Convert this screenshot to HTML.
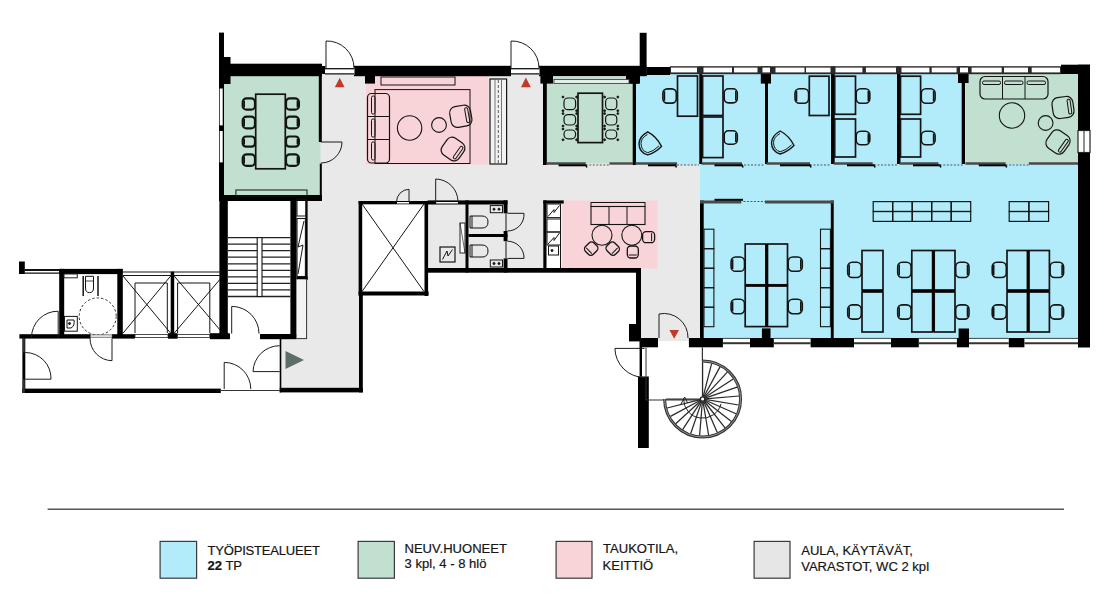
<!DOCTYPE html>
<html><head><meta charset="utf-8"><style>
html,body{margin:0;padding:0;background:#fff;}
svg{display:block;}
</style></head><body>
<svg width="1108" height="606" viewBox="0 0 1108 606">
<rect width="1108" height="606" fill="#fff"/>
<g fill="#e9e9e9">
<rect x="320" y="74" width="226" height="92"/>
<rect x="306" y="162" width="395" height="40"/>
<rect x="306" y="196" width="54" height="86"/>
<rect x="295" y="278" width="66" height="112"/>
<rect x="426" y="200" width="275" height="72"/>
<rect x="639" y="268" width="62" height="73"/>
<rect x="280" y="336" width="81" height="54"/>
</g>
<rect x="366.0" y="76.0" width="122.5" height="88.5" fill="#f8d3d7"/>
<rect x="561.5" y="200.5" width="96.0" height="68.0" fill="#f8d3d7"/>
<rect x="224.0" y="76.0" width="96.5" height="120.0" fill="#c2e0cf"/>
<rect x="546.0" y="77.0" width="87.5" height="86.5" fill="#c2e0cf"/>
<rect x="966.0" y="74.0" width="113.0" height="90.5" fill="#c2e0cf"/>
<rect x="635.0" y="74.0" width="331.0" height="90.5" fill="#b2ecfa"/>
<rect x="700.0" y="164.0" width="379.0" height="175.0" fill="#b2ecfa"/>
<rect x="358.6" y="201.0" width="69.1" height="94.5" fill="#fff"/>
<rect x="543.3" y="200.4" width="18.2" height="68.1" fill="#fff"/>
<rect x="646.0" y="347.5" width="57.0" height="52.5" fill="#fff"/>
<g fill="#000">
<rect x="219" y="32.6" width="5.0" height="168.4"/>
<rect x="224" y="57" width="6.5" height="27.0"/>
<rect x="224" y="63.7" width="98.0" height="12.5"/>
<rect x="322" y="66" width="3.5" height="8.0"/>
<rect x="354" y="65.8" width="157.0" height="10.4"/>
<rect x="365" y="76" width="10.0" height="7.6"/>
<rect x="539" y="65.8" width="107.6" height="10.4"/>
<rect x="639.7" y="32.8" width="6.9" height="43.2"/>
<rect x="646.6" y="67" width="23.4" height="8.0"/>
<rect x="540.4" y="76" width="12.6" height="7.6"/>
<rect x="543" y="76" width="3.8" height="89.0"/>
<rect x="626" y="76" width="14.0" height="7.6"/>
<rect x="632.7" y="74" width="3.3" height="91.0"/>
<rect x="630" y="74" width="9.0" height="9.6"/>
<rect x="699.3" y="66.5" width="2.9" height="97.5"/>
<rect x="765" y="66.5" width="3.0" height="97.5"/>
<rect x="760.8" y="66.5" width="10.2" height="17.1"/>
<rect x="831" y="66.5" width="3.7" height="97.5"/>
<rect x="897" y="66.5" width="3.5" height="97.5"/>
<rect x="961.7" y="66.5" width="3.3" height="97.5"/>
<rect x="958" y="66.5" width="10.6" height="16.5"/>
<rect x="1061" y="64.7" width="29.0" height="9.3"/>
<rect x="1078" y="64.7" width="12.0" height="65.8"/>
<rect x="1078" y="152.5" width="12.0" height="195.0"/>
<rect x="318.8" y="76" width="3.0" height="66.0"/>
<rect x="319.8" y="163.5" width="2.0" height="34.5"/>
<rect x="219" y="195" width="103.0" height="6.0"/>
<rect x="219.4" y="195" width="8.4" height="143.6"/>
<rect x="290.4" y="198" width="6.2" height="140.6"/>
<rect x="210" y="334" width="20.0" height="5.2"/>
<rect x="260" y="334" width="36.6" height="5.2"/>
<rect x="305.4" y="198" width="2.2" height="82.0"/>
<rect x="296.6" y="276.5" width="11.0" height="3.0"/>
<rect x="358.6" y="201" width="3.6" height="94.5"/>
<rect x="424.5" y="201" width="3.6" height="95.0"/>
<rect x="358.6" y="201" width="69.1" height="3.3"/>
<rect x="358.6" y="291.5" width="70.0" height="4.0"/>
<rect x="359" y="295" width="3.8" height="97.4"/>
<rect x="279.7" y="387.8" width="83.1" height="4.6"/>
<rect x="279.7" y="338" width="1.6" height="54.4"/>
<rect x="427.6" y="200.4" width="79.9" height="4.1"/>
<rect x="465.5" y="200.4" width="3.0" height="72.1"/>
<rect x="468.5" y="234" width="39.0" height="3.0"/>
<rect x="503.6" y="200.4" width="3.9" height="12.9"/>
<rect x="503.6" y="231" width="3.9" height="10.2"/>
<rect x="503.6" y="258.4" width="3.9" height="14.1"/>
<rect x="427.6" y="268" width="213.4" height="4.7"/>
<rect x="543.3" y="200.4" width="20.4" height="3.2"/>
<rect x="543.3" y="200.4" width="3.2" height="71.6"/>
<rect x="636" y="268" width="5.0" height="73.0"/>
<rect x="629" y="324" width="11.6" height="17.4"/>
<rect x="639.5" y="338" width="18.5" height="9.3"/>
<rect x="688.9" y="338" width="34.0" height="9.3"/>
<rect x="750" y="338" width="23.8" height="9.3"/>
<rect x="761.9" y="328.4" width="8.6" height="9.6"/>
<rect x="810.6" y="338" width="43.4" height="9.3"/>
<rect x="891" y="338" width="27.8" height="9.3"/>
<rect x="956.9" y="338" width="12.1" height="9.3"/>
<rect x="958.6" y="328.5" width="10.4" height="10.5"/>
<rect x="1008.8" y="338" width="15.6" height="9.3"/>
<rect x="638" y="376.5" width="10.8" height="71.5"/>
<rect x="639.6" y="347" width="2.4" height="29.5"/>
<rect x="700" y="200.5" width="3.7" height="137.5"/>
<rect x="830.8" y="200.5" width="2.9" height="137.5"/>
<rect x="19" y="261.5" width="5.8" height="12.5"/>
<rect x="59.2" y="268.9" width="5.0" height="69.0"/>
<rect x="59.2" y="268.9" width="63.3" height="5.2"/>
<rect x="117.3" y="268.9" width="5.5" height="69.0"/>
<rect x="19.4" y="334.2" width="71.2" height="4.4"/>
<rect x="112" y="334.2" width="23.0" height="4.4"/>
<rect x="168" y="333.2" width="9.6" height="5.5"/>
<rect x="209.8" y="333.2" width="19.9" height="5.5"/>
<rect x="170.7" y="271.6" width="3.5" height="66.4"/>
<rect x="22.4" y="338" width="2.9" height="55.0"/>
<rect x="22.4" y="388.6" width="198.4" height="4.4"/>
</g>
<g>
<rect x="670.0" y="66.2" width="391.0" height="8.0" fill="#2a2a2a"/>
<rect x="671.0" y="67.6" width="26.0" height="4.8" fill="#fff"/>
<rect x="703.5" y="67.6" width="28.5" height="4.8" fill="#fff"/>
<rect x="734.0" y="67.6" width="23.5" height="4.8" fill="#fff"/>
<rect x="762.5" y="67.6" width="7.5" height="4.8" fill="#fff"/>
<rect x="775.5" y="67.6" width="29.0" height="4.8" fill="#fff"/>
<rect x="806.0" y="67.6" width="24.5" height="4.8" fill="#fff"/>
<rect x="835.5" y="67.6" width="26.9" height="4.8" fill="#fff"/>
<rect x="865.9" y="67.6" width="30.1" height="4.8" fill="#fff"/>
<rect x="901.5" y="67.6" width="27.9" height="4.8" fill="#fff"/>
<rect x="931.7" y="67.6" width="24.9" height="4.8" fill="#fff"/>
<rect x="960.0" y="67.6" width="8.0" height="4.8" fill="#fff"/>
<rect x="971.6" y="67.6" width="30.1" height="4.8" fill="#fff"/>
<rect x="1004.0" y="67.6" width="24.0" height="4.8" fill="#fff"/>
<rect x="1031.7" y="67.6" width="28.3" height="4.8" fill="#fff"/>
</g>
<rect x="1078.0" y="130.5" width="12.0" height="22.0" fill="#fff" stroke="#222" stroke-width="1.2"/>
<line x1="1084.0" y1="130.5" x2="1084.0" y2="152.5" stroke="#222" stroke-width="1"/>
<rect x="325.0" y="67.5" width="29.5" height="7.5" fill="#fff"/>
<line x1="325.0" y1="68.7" x2="354.5" y2="68.7" stroke="#111" stroke-width="1.3"/>
<line x1="325.0" y1="73.9" x2="354.5" y2="73.9" stroke="#111" stroke-width="1.3"/>
<rect x="511.0" y="67.5" width="28.5" height="7.5" fill="#fff"/>
<line x1="511.0" y1="68.7" x2="539.5" y2="68.7" stroke="#111" stroke-width="1.3"/>
<line x1="511.0" y1="73.9" x2="539.5" y2="73.9" stroke="#111" stroke-width="1.3"/>
<path d="M326,68 L326,41 A27.0,27.0 0 0 1 354,68" stroke="#1c1c1c" stroke-width="1" fill="none"/>
<path d="M511,68 L511,41 A27.0,27.0 0 0 1 539,68" stroke="#1c1c1c" stroke-width="1" fill="none"/>
<path d="M321,142 L342,142 A21.0,21.0 0 0 1 321,163" stroke="#1c1c1c" stroke-width="1" fill="none"/>
<rect x="397.0" y="202.0" width="12.0" height="1.5" fill="#fff"/>
<path d="M409,202 L409,189.3 A12.7,12.7 0 0 0 396.5,202" stroke="#1c1c1c" stroke-width="1" fill="none"/>
<rect x="436.2" y="202.0" width="21.8" height="1.5" fill="#fff"/>
<path d="M435.7,201.7 L435.7,179 A22.7,22.7 0 0 1 458,201.7" stroke="#1c1c1c" stroke-width="1" fill="none"/>
<path d="M507.5,213.3 L524,213.3 A16.5,16.5 0 0 1 507.5,231" stroke="#1c1c1c" stroke-width="1" fill="none"/>
<path d="M507.5,258.4 L524,258.4 A16.5,16.5 0 0 0 507.5,241.2" stroke="#1c1c1c" stroke-width="1" fill="none"/>
<path d="M659,338 L659,314 A24.0,24.0 0 0 1 688,338" stroke="#1c1c1c" stroke-width="1" fill="none"/>
<path d="M644.6,348.4 L614.9,348.4 A29.7,29.7 0 0 0 644.6,377.5" stroke="#1c1c1c" stroke-width="1" fill="none"/>
<path d="M58.2,337.6 L58.2,311.2 A26.4,26.4 0 0 0 31.5,337.6" stroke="#1c1c1c" stroke-width="1" fill="none"/>
<path d="M112,338.3 L112,360.7 A22.4,22.4 0 0 1 90,338.3" stroke="#1c1c1c" stroke-width="1" fill="none"/>
<path d="M25.2,379.2 L51,379.2 A25.8,25.8 0 0 0 25.2,352.5" stroke="#1c1c1c" stroke-width="1" fill="none"/>
<path d="M279.7,371.6 L253,371.6 A26.7,26.7 0 0 1 279.7,345.7" stroke="#1c1c1c" stroke-width="1" fill="none"/>
<path d="M224.2,389 L224.2,362.4 A26.6,26.6 0 0 1 250.8,389" stroke="#1c1c1c" stroke-width="1" fill="none"/>
<path d="M231.7,333.6 L231.7,306.4 A27.2,27.2 0 0 1 259,333.6" stroke="#1c1c1c" stroke-width="1" fill="none"/>
<path d="M334.8,87.3 L339.7,77.8 L344.6,87.3 Z" fill="#c0392b"/>
<path d="M521,87.3 L525.9,77.6 L530.8,87.3 Z" fill="#c0392b"/>
<path d="M669.4,330 L679,330 L674.2,338.8 Z" fill="#c0392b"/>
<path d="M285.5,351 L304,360 L285.5,369 Z" fill="#5d6e69"/>
<line x1="546.8" y1="163.5" x2="585.8" y2="163.5" stroke="#4a4a4a" stroke-width="2.4"/>
<line x1="609.4" y1="163.5" x2="633.0" y2="163.5" stroke="#4a4a4a" stroke-width="2.4"/>
<line x1="558.6" y1="165.3" x2="585.8" y2="165.3" stroke="#000" stroke-width="2"/>
<line x1="585.8" y1="164.5" x2="586.8" y2="167.5" stroke="#000" stroke-width="1.5"/>
<line x1="585.8" y1="165.0" x2="609.4" y2="165.0" stroke="#333" stroke-width="0.8" stroke-dasharray="2,1.5"/>
<line x1="635.4" y1="163.5" x2="677.0" y2="163.5" stroke="#4a4a4a" stroke-width="2.4"/>
<line x1="648.0" y1="165.3" x2="675.4" y2="165.3" stroke="#000" stroke-width="2"/>
<line x1="675.4" y1="164.5" x2="676.4" y2="167.5" stroke="#000" stroke-width="1.5"/>
<line x1="677.0" y1="165.0" x2="699.0" y2="165.0" stroke="#333" stroke-width="0.8" stroke-dasharray="2,1.5"/>
<line x1="701.5" y1="163.5" x2="742.0" y2="163.5" stroke="#4a4a4a" stroke-width="2.4"/>
<line x1="714.5" y1="165.3" x2="742.0" y2="165.3" stroke="#000" stroke-width="2"/>
<line x1="742.0" y1="164.5" x2="743.0" y2="167.5" stroke="#000" stroke-width="1.5"/>
<line x1="744.0" y1="165.0" x2="765.0" y2="165.0" stroke="#333" stroke-width="0.8" stroke-dasharray="2,1.5"/>
<line x1="766.5" y1="163.5" x2="810.0" y2="163.5" stroke="#4a4a4a" stroke-width="2.4"/>
<line x1="780.0" y1="165.3" x2="810.0" y2="165.3" stroke="#000" stroke-width="2"/>
<line x1="810.0" y1="164.5" x2="811.0" y2="167.5" stroke="#000" stroke-width="1.5"/>
<line x1="810.0" y1="165.0" x2="831.0" y2="165.0" stroke="#333" stroke-width="0.8" stroke-dasharray="2,1.5"/>
<line x1="833.7" y1="163.5" x2="872.7" y2="163.5" stroke="#4a4a4a" stroke-width="2.4"/>
<line x1="847.0" y1="165.3" x2="874.0" y2="165.3" stroke="#000" stroke-width="2"/>
<line x1="874.0" y1="164.5" x2="875.0" y2="167.5" stroke="#000" stroke-width="1.5"/>
<line x1="874.0" y1="165.0" x2="897.0" y2="165.0" stroke="#333" stroke-width="0.8" stroke-dasharray="2,1.5"/>
<line x1="899.5" y1="163.5" x2="938.5" y2="163.5" stroke="#4a4a4a" stroke-width="2.4"/>
<line x1="913.0" y1="165.3" x2="939.8" y2="165.3" stroke="#000" stroke-width="2"/>
<line x1="939.8" y1="164.5" x2="940.8" y2="167.5" stroke="#000" stroke-width="1.5"/>
<line x1="939.8" y1="165.0" x2="963.0" y2="165.0" stroke="#333" stroke-width="0.8" stroke-dasharray="2,1.5"/>
<line x1="965.4" y1="163.5" x2="1005.6" y2="163.5" stroke="#4a4a4a" stroke-width="2.4"/>
<line x1="1028.8" y1="163.5" x2="1078.0" y2="163.5" stroke="#4a4a4a" stroke-width="2.4"/>
<line x1="978.8" y1="165.3" x2="1005.6" y2="165.3" stroke="#000" stroke-width="2"/>
<line x1="1005.6" y1="164.5" x2="1006.6" y2="167.5" stroke="#000" stroke-width="1.5"/>
<line x1="1005.6" y1="165.0" x2="1028.8" y2="165.0" stroke="#333" stroke-width="0.8" stroke-dasharray="2,1.5"/>
<line x1="700.0" y1="202.0" x2="741.3" y2="202.0" stroke="#4a4a4a" stroke-width="3.2"/>
<line x1="765.0" y1="202.0" x2="833.7" y2="202.0" stroke="#4a4a4a" stroke-width="3.2"/>
<line x1="714.5" y1="199.8" x2="743.0" y2="199.8" stroke="#000" stroke-width="2"/>
<line x1="743.4" y1="201.5" x2="765.0" y2="201.5" stroke="#333" stroke-width="0.8" stroke-dasharray="2,1.5"/>
<rect x="255.7" y="94.2" width="29.6" height="74.6" fill="none" stroke="#141414" stroke-width="1.7"/>
<rect x="242.7" y="98.4" width="12.3" height="11.3" rx="3.8" fill="none" stroke="#141414" stroke-width="2.2"/>
<line x1="244.2" y1="100.7" x2="244.2" y2="107.4" stroke="#141414" stroke-width="1.6"/>
<rect x="286.0" y="98.4" width="12.9" height="11.3" rx="3.8" fill="none" stroke="#141414" stroke-width="2.2"/>
<line x1="297.4" y1="100.7" x2="297.4" y2="107.4" stroke="#141414" stroke-width="1.6"/>
<rect x="242.7" y="116.7" width="12.3" height="11.6" rx="3.9" fill="none" stroke="#141414" stroke-width="2.2"/>
<line x1="244.2" y1="119.0" x2="244.2" y2="126.0" stroke="#141414" stroke-width="1.6"/>
<rect x="286.0" y="116.7" width="12.9" height="11.6" rx="3.9" fill="none" stroke="#141414" stroke-width="2.2"/>
<line x1="297.4" y1="119.0" x2="297.4" y2="126.0" stroke="#141414" stroke-width="1.6"/>
<rect x="242.7" y="136.5" width="12.3" height="10.2" rx="3.5" fill="none" stroke="#141414" stroke-width="2.2"/>
<line x1="244.2" y1="138.8" x2="244.2" y2="144.4" stroke="#141414" stroke-width="1.6"/>
<rect x="286.0" y="136.5" width="12.9" height="10.2" rx="3.5" fill="none" stroke="#141414" stroke-width="2.2"/>
<line x1="297.4" y1="138.8" x2="297.4" y2="144.4" stroke="#141414" stroke-width="1.6"/>
<rect x="242.7" y="154.3" width="12.3" height="11.5" rx="3.9" fill="none" stroke="#141414" stroke-width="2.2"/>
<line x1="244.2" y1="156.6" x2="244.2" y2="163.5" stroke="#141414" stroke-width="1.6"/>
<rect x="286.0" y="154.3" width="12.9" height="11.5" rx="3.9" fill="none" stroke="#141414" stroke-width="2.2"/>
<line x1="297.4" y1="156.6" x2="297.4" y2="163.5" stroke="#141414" stroke-width="1.6"/>
<rect x="235.9" y="190.0" width="71.1" height="6.0" fill="none" stroke="#141414" stroke-width="1"/>
<rect x="219.7" y="88.5" width="3.0" height="36.9" fill="#fff"/>
<rect x="219.7" y="131.0" width="3.0" height="31.4" fill="#fff"/>
<rect x="554.0" y="79.5" width="75.0" height="4.1" fill="#e4efe9" stroke="#333" stroke-width="0.8"/>
<rect x="578.0" y="93.2" width="24.5" height="49.4" fill="none" stroke="#141414" stroke-width="1.7"/>
<rect x="564.0" y="98.0" width="11.6" height="11.7" rx="4" fill="none" stroke="#141414" stroke-width="1.2"/>
<circle cx="563.0" cy="97.0" r="1.0" stroke="#141414" stroke-width="0.8" fill="#141414"/>
<circle cx="563.0" cy="110.7" r="1.0" stroke="#141414" stroke-width="0.8" fill="#141414"/>
<circle cx="576.6" cy="97.0" r="1.0" stroke="#141414" stroke-width="0.8" fill="#141414"/>
<circle cx="576.6" cy="110.7" r="1.0" stroke="#141414" stroke-width="0.8" fill="#141414"/>
<rect x="605.6" y="98.0" width="11.2" height="11.7" rx="4" fill="none" stroke="#141414" stroke-width="1.2"/>
<circle cx="604.6" cy="97.0" r="1.0" stroke="#141414" stroke-width="0.8" fill="#141414"/>
<circle cx="604.6" cy="110.7" r="1.0" stroke="#141414" stroke-width="0.8" fill="#141414"/>
<circle cx="617.8" cy="97.0" r="1.0" stroke="#141414" stroke-width="0.8" fill="#141414"/>
<circle cx="617.8" cy="110.7" r="1.0" stroke="#141414" stroke-width="0.8" fill="#141414"/>
<rect x="564.0" y="114.6" width="11.6" height="10.4" rx="4" fill="none" stroke="#141414" stroke-width="1.2"/>
<circle cx="563.0" cy="113.6" r="1.0" stroke="#141414" stroke-width="0.8" fill="#141414"/>
<circle cx="563.0" cy="126.0" r="1.0" stroke="#141414" stroke-width="0.8" fill="#141414"/>
<circle cx="576.6" cy="113.6" r="1.0" stroke="#141414" stroke-width="0.8" fill="#141414"/>
<circle cx="576.6" cy="126.0" r="1.0" stroke="#141414" stroke-width="0.8" fill="#141414"/>
<rect x="605.6" y="114.6" width="11.2" height="10.4" rx="4" fill="none" stroke="#141414" stroke-width="1.2"/>
<circle cx="604.6" cy="113.6" r="1.0" stroke="#141414" stroke-width="0.8" fill="#141414"/>
<circle cx="604.6" cy="126.0" r="1.0" stroke="#141414" stroke-width="0.8" fill="#141414"/>
<circle cx="617.8" cy="113.6" r="1.0" stroke="#141414" stroke-width="0.8" fill="#141414"/>
<circle cx="617.8" cy="126.0" r="1.0" stroke="#141414" stroke-width="0.8" fill="#141414"/>
<rect x="564.0" y="130.0" width="11.6" height="8.8" rx="4" fill="none" stroke="#141414" stroke-width="1.2"/>
<circle cx="563.0" cy="129.0" r="1.0" stroke="#141414" stroke-width="0.8" fill="#141414"/>
<circle cx="563.0" cy="139.8" r="1.0" stroke="#141414" stroke-width="0.8" fill="#141414"/>
<circle cx="576.6" cy="129.0" r="1.0" stroke="#141414" stroke-width="0.8" fill="#141414"/>
<circle cx="576.6" cy="139.8" r="1.0" stroke="#141414" stroke-width="0.8" fill="#141414"/>
<rect x="605.6" y="130.0" width="11.2" height="8.8" rx="4" fill="none" stroke="#141414" stroke-width="1.2"/>
<circle cx="604.6" cy="129.0" r="1.0" stroke="#141414" stroke-width="0.8" fill="#141414"/>
<circle cx="604.6" cy="139.8" r="1.0" stroke="#141414" stroke-width="0.8" fill="#141414"/>
<circle cx="617.8" cy="129.0" r="1.0" stroke="#141414" stroke-width="0.8" fill="#141414"/>
<circle cx="617.8" cy="139.8" r="1.0" stroke="#141414" stroke-width="0.8" fill="#141414"/>
<rect x="381.0" y="77.0" width="74.0" height="8.0" fill="none" stroke="#141414" stroke-width="1"/>
<rect x="375.0" y="89.6" width="95.0" height="73.9" fill="none" stroke="#141414" stroke-width="1"/>
<rect x="367.5" y="93.5" width="22" height="69.5" rx="4" fill="none" stroke="#141414" stroke-width="1.2"/>
<line x1="367.5" y1="116.5" x2="389.5" y2="116.5" stroke="#141414" stroke-width="1"/>
<line x1="367.5" y1="139.5" x2="389.5" y2="139.5" stroke="#141414" stroke-width="1"/>
<rect x="371.5" y="96" width="3.5" height="18" rx="1.5" fill="none" stroke="#141414" stroke-width="1"/>
<rect x="371.5" y="119" width="3.5" height="18" rx="1.5" fill="none" stroke="#141414" stroke-width="1"/>
<rect x="371.5" y="142" width="3.5" height="18" rx="1.5" fill="none" stroke="#141414" stroke-width="1"/>
<circle cx="409.6" cy="128.0" r="12.2" stroke="#141414" stroke-width="1.1" fill="none"/>
<circle cx="439.0" cy="125.0" r="7.4" stroke="#141414" stroke-width="1.1" fill="none"/>
<g transform="translate(460.8,116.3) rotate(-10)">
<rect x="-10.5" y="-10.5" width="21.0" height="21.0" rx="6.3" fill="none" stroke="#141414" stroke-width="1.2"/>
<rect x="5.0" y="-7.5" width="3" height="15.0" rx="1.4" fill="none" stroke="#141414" stroke-width="1"/>
</g>
<g transform="translate(453.0,149.0) rotate(35)">
<rect x="-10.2" y="-10.2" width="20.5" height="20.5" rx="6.1" fill="none" stroke="#141414" stroke-width="1.2"/>
<rect x="4.8" y="-7.2" width="3" height="14.5" rx="1.4" fill="none" stroke="#141414" stroke-width="1"/>
</g>
<rect x="490.0" y="79.0" width="16.6" height="85.0" fill="#f2f2f2" stroke="#141414" stroke-width="1.2"/>
<line x1="495.0" y1="79.0" x2="495.0" y2="164.0" stroke="#555" stroke-width="0.8"/>
<line x1="501.5" y1="79.0" x2="501.5" y2="164.0" stroke="#555" stroke-width="0.8"/>
<line x1="498.3" y1="80.0" x2="498.3" y2="163.0" stroke="#333" stroke-width="0.8" stroke-dasharray="3,2"/>
<rect x="980" y="76.5" width="68" height="22.5" rx="5" fill="none" stroke="#141414" stroke-width="1.2"/>
<line x1="1002.5" y1="76.5" x2="1002.5" y2="99.0" stroke="#141414" stroke-width="1"/>
<line x1="1025.0" y1="76.5" x2="1025.0" y2="99.0" stroke="#141414" stroke-width="1"/>
<rect x="982.5" y="81" width="18.0" height="3.5" rx="1.5" fill="none" stroke="#141414" stroke-width="1"/>
<rect x="1004.5" y="81" width="18.5" height="3.5" rx="1.5" fill="none" stroke="#141414" stroke-width="1"/>
<rect x="1027" y="81" width="18.5" height="3.5" rx="1.5" fill="none" stroke="#141414" stroke-width="1"/>
<circle cx="1012.0" cy="115.5" r="12.7" stroke="#141414" stroke-width="1.1" fill="none"/>
<circle cx="1045.6" cy="123.0" r="7.4" stroke="#141414" stroke-width="1.1" fill="none"/>
<g transform="translate(1063.0,107.5) rotate(-8)">
<rect x="-10.5" y="-10.5" width="21.0" height="21.0" rx="6.3" fill="none" stroke="#141414" stroke-width="1.2"/>
<rect x="5.0" y="-7.5" width="3" height="15.0" rx="1.4" fill="none" stroke="#141414" stroke-width="1"/>
</g>
<g transform="translate(1058.0,142.0) rotate(35)">
<rect x="-10.5" y="-10.5" width="21.0" height="21.0" rx="6.3" fill="none" stroke="#141414" stroke-width="1.2"/>
<rect x="5.0" y="-7.5" width="3" height="15.0" rx="1.4" fill="none" stroke="#141414" stroke-width="1"/>
</g>
<rect x="591" y="202.5" width="54" height="4" fill="none" stroke="#141414" stroke-width="1"/>
<rect x="591" y="206.5" width="54" height="18" fill="none" stroke="#141414" stroke-width="1.1"/>
<line x1="609.0" y1="206.5" x2="609.0" y2="224.5" stroke="#141414" stroke-width="1"/>
<line x1="627.0" y1="206.5" x2="627.0" y2="224.5" stroke="#141414" stroke-width="1"/>
<circle cx="602.0" cy="235.3" r="10.0" stroke="#141414" stroke-width="1.1" fill="none"/>
<circle cx="631.8" cy="235.3" r="10.0" stroke="#141414" stroke-width="1.1" fill="none"/>
<g transform="translate(591.2,248.6) rotate(45)">
<rect x="-5.5" y="-6.0" width="11" height="12" rx="3.5" fill="none" stroke="#141414" stroke-width="1.3"/>
<path d="M-4.0,3.0 L4.0,3.0" stroke="#141414" stroke-width="1"/>
</g>
<g transform="translate(612.7,248.6) rotate(-45)">
<rect x="-5.5" y="-6.0" width="11" height="12" rx="3.5" fill="none" stroke="#141414" stroke-width="1.3"/>
<path d="M-4.0,3.0 L4.0,3.0" stroke="#141414" stroke-width="1"/>
</g>
<g transform="translate(632.8,252) rotate(0)">
<rect x="-5.5" y="-6.0" width="11" height="12" rx="3.5" fill="none" stroke="#141414" stroke-width="1.3"/>
<path d="M-4.0,3.0 L4.0,3.0" stroke="#141414" stroke-width="1"/>
</g>
<g transform="translate(648.6,237.2) rotate(-90)">
<rect x="-5.5" y="-6.0" width="11" height="12" rx="3.5" fill="none" stroke="#141414" stroke-width="1.3"/>
<path d="M-4.0,3.0 L4.0,3.0" stroke="#141414" stroke-width="1"/>
</g>
<rect x="547.0" y="204.0" width="13.5" height="13.6" fill="none" stroke="#141414" stroke-width="1"/>
<path d="M548,216.5 L554,209.5 L554,212.5 L559.5,205.5" stroke="#141414" stroke-width="1" fill="none"/>
<rect x="547.0" y="219.0" width="13.5" height="13.0" fill="none" stroke="#141414" stroke-width="1"/>
<rect x="547.0" y="232.0" width="13.5" height="13.0" fill="none" stroke="#141414" stroke-width="1"/>
<path d="M548,244 L554,237.5 L554,240.5 L559.5,233" stroke="#141414" stroke-width="1" fill="none"/>
<rect x="548.5" y="246.0" width="10.0" height="9.0" fill="none" stroke="#141414" stroke-width="1"/>
<circle cx="552.0" cy="250.5" r="1.0" stroke="#141414" stroke-width="1" fill="#141414"/>
<line x1="560.5" y1="204.0" x2="560.5" y2="268.0" stroke="#141414" stroke-width="1"/>
<rect x="677.5" y="76.0" width="20.0" height="40.2" fill="none" stroke="#141414" stroke-width="1.7"/>
<rect x="662.9" y="88.9" width="13.4" height="14.2" rx="4.4" fill="none" stroke="#141414" stroke-width="1.6"/>
<line x1="664.4" y1="91.2" x2="664.4" y2="100.8" stroke="#141414" stroke-width="1.6"/>
<g transform="translate(650.5,143.4) scale(1.0)">
<path d="M-2.8,-11.5 Q6,-7 11,3 Q5,9 -2.8,11.5 Q-11.5,9 -11.5,0 Q-11,-7 -2.8,-11.5 Z" fill="none" stroke="#141414" stroke-width="1.4"/>
<path d="M-3,-9 Q-9.3,-5.5 -9.5,0 Q-9.3,7.5 -2.8,9.3 Q3,8 8.5,2.5" fill="none" stroke="#141414" stroke-width="1"/>
</g>
<rect x="702.6" y="76.0" width="20.4" height="39.5" fill="none" stroke="#141414" stroke-width="1.7"/>
<rect x="702.6" y="117.0" width="20.4" height="40.6" fill="none" stroke="#141414" stroke-width="1.7"/>
<rect x="724.2" y="88.7" width="13.1" height="14.2" rx="4.3" fill="none" stroke="#141414" stroke-width="1.6"/>
<line x1="735.8" y1="91.0" x2="735.8" y2="100.6" stroke="#141414" stroke-width="1.6"/>
<rect x="724.2" y="130.7" width="13.1" height="13.6" rx="4.3" fill="none" stroke="#141414" stroke-width="1.6"/>
<line x1="735.8" y1="133.0" x2="735.8" y2="142.0" stroke="#141414" stroke-width="1.6"/>
<g transform="translate(783,142.5) scale(1.0)">
<path d="M-2.8,-11.5 Q6,-7 11,3 Q5,9 -2.8,11.5 Q-11.5,9 -11.5,0 Q-11,-7 -2.8,-11.5 Z" fill="none" stroke="#141414" stroke-width="1.4"/>
<path d="M-3,-9 Q-9.3,-5.5 -9.5,0 Q-9.3,7.5 -2.8,9.3 Q3,8 8.5,2.5" fill="none" stroke="#141414" stroke-width="1"/>
</g>
<rect x="809.3" y="76.2" width="19.7" height="39.3" fill="none" stroke="#141414" stroke-width="1.7"/>
<rect x="795.0" y="88.7" width="13.6" height="14.6" rx="4.5" fill="none" stroke="#141414" stroke-width="1.6"/>
<line x1="796.5" y1="91.0" x2="796.5" y2="101.0" stroke="#141414" stroke-width="1.6"/>
<rect x="834.7" y="76.2" width="20.8" height="38.1" fill="none" stroke="#141414" stroke-width="1.7"/>
<rect x="834.7" y="119.0" width="20.8" height="38.0" fill="none" stroke="#141414" stroke-width="1.7"/>
<rect x="856.2" y="88.7" width="13.6" height="14.6" rx="4.5" fill="none" stroke="#141414" stroke-width="1.6"/>
<line x1="868.3" y1="91.0" x2="868.3" y2="101.0" stroke="#141414" stroke-width="1.6"/>
<rect x="856.2" y="131.2" width="13.6" height="13.6" rx="4.5" fill="none" stroke="#141414" stroke-width="1.6"/>
<line x1="868.3" y1="133.5" x2="868.3" y2="142.5" stroke="#141414" stroke-width="1.6"/>
<rect x="900.5" y="76.2" width="20.1" height="38.1" fill="none" stroke="#141414" stroke-width="1.7"/>
<rect x="900.5" y="119.0" width="20.1" height="38.0" fill="none" stroke="#141414" stroke-width="1.7"/>
<rect x="921.3" y="88.7" width="13.8" height="14.6" rx="4.6" fill="none" stroke="#141414" stroke-width="1.6"/>
<line x1="933.6" y1="91.0" x2="933.6" y2="101.0" stroke="#141414" stroke-width="1.6"/>
<rect x="921.3" y="131.2" width="13.8" height="13.6" rx="4.5" fill="none" stroke="#141414" stroke-width="1.6"/>
<line x1="933.6" y1="133.5" x2="933.6" y2="142.5" stroke="#141414" stroke-width="1.6"/>
<rect x="704.0" y="229.2" width="9.9" height="19.5" fill="none" stroke="#141414" stroke-width="1.1"/>
<rect x="820.5" y="229.2" width="9.9" height="19.5" fill="none" stroke="#141414" stroke-width="1.1"/>
<rect x="704.0" y="248.7" width="9.9" height="19.5" fill="none" stroke="#141414" stroke-width="1.1"/>
<rect x="820.5" y="248.7" width="9.9" height="19.5" fill="none" stroke="#141414" stroke-width="1.1"/>
<rect x="704.0" y="268.2" width="9.9" height="19.5" fill="none" stroke="#141414" stroke-width="1.1"/>
<rect x="820.5" y="268.2" width="9.9" height="19.5" fill="none" stroke="#141414" stroke-width="1.1"/>
<rect x="704.0" y="287.7" width="9.9" height="19.5" fill="none" stroke="#141414" stroke-width="1.1"/>
<rect x="820.5" y="287.7" width="9.9" height="19.5" fill="none" stroke="#141414" stroke-width="1.1"/>
<rect x="704.0" y="307.2" width="9.9" height="19.5" fill="none" stroke="#141414" stroke-width="1.1"/>
<rect x="820.5" y="307.2" width="9.9" height="19.5" fill="none" stroke="#141414" stroke-width="1.1"/>
<rect x="745.2" y="244.0" width="20.7" height="40.8" fill="none" stroke="#141414" stroke-width="1.7"/>
<rect x="767.5" y="244.0" width="20.0" height="40.8" fill="none" stroke="#141414" stroke-width="1.7"/>
<rect x="745.2" y="286.0" width="20.7" height="40.6" fill="none" stroke="#141414" stroke-width="1.7"/>
<rect x="767.5" y="286.0" width="20.0" height="40.6" fill="none" stroke="#141414" stroke-width="1.7"/>
<rect x="765.6" y="244.0" width="2.2" height="82.6" fill="#000"/>
<rect x="745.2" y="284.6" width="42.3" height="1.7" fill="#000"/>
<rect x="731.1" y="257.0" width="13.4" height="14.3" rx="4.4" fill="none" stroke="#141414" stroke-width="1.6"/>
<line x1="732.6" y1="259.3" x2="732.6" y2="269.0" stroke="#141414" stroke-width="1.6"/>
<rect x="788.2" y="257.0" width="14.1" height="14.3" rx="4.6" fill="none" stroke="#141414" stroke-width="1.6"/>
<line x1="800.8" y1="259.3" x2="800.8" y2="269.0" stroke="#141414" stroke-width="1.6"/>
<rect x="731.1" y="299.2" width="13.4" height="14.5" rx="4.4" fill="none" stroke="#141414" stroke-width="1.6"/>
<line x1="732.6" y1="301.5" x2="732.6" y2="311.4" stroke="#141414" stroke-width="1.6"/>
<rect x="788.2" y="299.2" width="14.1" height="14.5" rx="4.6" fill="none" stroke="#141414" stroke-width="1.6"/>
<line x1="800.8" y1="301.5" x2="800.8" y2="311.4" stroke="#141414" stroke-width="1.6"/>
<rect x="873.2" y="201.6" width="19.5" height="9.9" fill="none" stroke="#141414" stroke-width="1.2"/>
<rect x="873.2" y="211.5" width="19.5" height="9.9" fill="none" stroke="#141414" stroke-width="1.2"/>
<rect x="892.7" y="201.6" width="19.5" height="9.9" fill="none" stroke="#141414" stroke-width="1.2"/>
<rect x="892.7" y="211.5" width="19.5" height="9.9" fill="none" stroke="#141414" stroke-width="1.2"/>
<rect x="912.2" y="201.6" width="19.5" height="9.9" fill="none" stroke="#141414" stroke-width="1.2"/>
<rect x="912.2" y="211.5" width="19.5" height="9.9" fill="none" stroke="#141414" stroke-width="1.2"/>
<rect x="931.7" y="201.6" width="19.5" height="9.9" fill="none" stroke="#141414" stroke-width="1.2"/>
<rect x="931.7" y="211.5" width="19.5" height="9.9" fill="none" stroke="#141414" stroke-width="1.2"/>
<rect x="951.2" y="201.6" width="19.5" height="9.9" fill="none" stroke="#141414" stroke-width="1.2"/>
<rect x="951.2" y="211.5" width="19.5" height="9.9" fill="none" stroke="#141414" stroke-width="1.2"/>
<rect x="1009.2" y="201.6" width="19.7" height="9.9" fill="none" stroke="#141414" stroke-width="1.2"/>
<rect x="1009.2" y="211.5" width="19.7" height="9.9" fill="none" stroke="#141414" stroke-width="1.2"/>
<rect x="1028.9" y="201.6" width="19.7" height="9.9" fill="none" stroke="#141414" stroke-width="1.2"/>
<rect x="1028.9" y="211.5" width="19.7" height="9.9" fill="none" stroke="#141414" stroke-width="1.2"/>
<rect x="862.0" y="250.5" width="21.0" height="39.5" fill="none" stroke="#141414" stroke-width="1.7"/>
<rect x="862.0" y="292.0" width="21.0" height="40.0" fill="none" stroke="#141414" stroke-width="1.7"/>
<rect x="911.8" y="250.5" width="20.8" height="39.5" fill="none" stroke="#141414" stroke-width="1.7"/>
<rect x="911.8" y="292.0" width="20.8" height="40.0" fill="none" stroke="#141414" stroke-width="1.7"/>
<rect x="934.2" y="250.5" width="20.8" height="39.5" fill="none" stroke="#141414" stroke-width="1.7"/>
<rect x="934.2" y="292.0" width="20.8" height="40.0" fill="none" stroke="#141414" stroke-width="1.7"/>
<rect x="1007.0" y="250.5" width="20.4" height="39.5" fill="none" stroke="#141414" stroke-width="1.7"/>
<rect x="1007.0" y="292.0" width="20.4" height="40.0" fill="none" stroke="#141414" stroke-width="1.7"/>
<rect x="1029.0" y="250.5" width="20.4" height="39.5" fill="none" stroke="#141414" stroke-width="1.7"/>
<rect x="1029.0" y="292.0" width="20.4" height="40.0" fill="none" stroke="#141414" stroke-width="1.7"/>
<rect x="862.0" y="289.9" width="21.0" height="2.2" fill="#000"/>
<rect x="911.8" y="289.9" width="43.2" height="2.2" fill="#000"/>
<rect x="1007.0" y="289.9" width="42.4" height="2.2" fill="#000"/>
<rect x="932.4" y="250.5" width="2.0" height="81.5" fill="#000"/>
<rect x="1027.2" y="250.5" width="2.0" height="81.5" fill="#000"/>
<rect x="847.7" y="262.3" width="13.6" height="15.2" rx="4.5" fill="none" stroke="#141414" stroke-width="1.6"/>
<line x1="849.2" y1="264.6" x2="849.2" y2="275.2" stroke="#141414" stroke-width="1.6"/>
<rect x="897.7" y="262.3" width="13.4" height="15.2" rx="4.4" fill="none" stroke="#141414" stroke-width="1.6"/>
<line x1="899.2" y1="264.6" x2="899.2" y2="275.2" stroke="#141414" stroke-width="1.6"/>
<rect x="955.7" y="262.3" width="13.3" height="15.2" rx="4.4" fill="none" stroke="#141414" stroke-width="1.6"/>
<line x1="967.5" y1="264.6" x2="967.5" y2="275.2" stroke="#141414" stroke-width="1.6"/>
<rect x="992.2" y="262.3" width="14.1" height="15.2" rx="4.6" fill="none" stroke="#141414" stroke-width="1.6"/>
<line x1="993.7" y1="264.6" x2="993.7" y2="275.2" stroke="#141414" stroke-width="1.6"/>
<rect x="1050.1" y="262.3" width="13.5" height="15.2" rx="4.5" fill="none" stroke="#141414" stroke-width="1.6"/>
<line x1="1062.1" y1="264.6" x2="1062.1" y2="275.2" stroke="#141414" stroke-width="1.6"/>
<rect x="847.7" y="304.9" width="13.6" height="14.2" rx="4.5" fill="none" stroke="#141414" stroke-width="1.6"/>
<line x1="849.2" y1="307.2" x2="849.2" y2="316.8" stroke="#141414" stroke-width="1.6"/>
<rect x="897.7" y="304.9" width="13.4" height="14.2" rx="4.4" fill="none" stroke="#141414" stroke-width="1.6"/>
<line x1="899.2" y1="307.2" x2="899.2" y2="316.8" stroke="#141414" stroke-width="1.6"/>
<rect x="955.7" y="304.9" width="13.3" height="14.2" rx="4.4" fill="none" stroke="#141414" stroke-width="1.6"/>
<line x1="967.5" y1="307.2" x2="967.5" y2="316.8" stroke="#141414" stroke-width="1.6"/>
<rect x="992.2" y="304.9" width="14.1" height="14.2" rx="4.6" fill="none" stroke="#141414" stroke-width="1.6"/>
<line x1="993.7" y1="307.2" x2="993.7" y2="316.8" stroke="#141414" stroke-width="1.6"/>
<rect x="1050.1" y="304.9" width="13.5" height="14.2" rx="4.5" fill="none" stroke="#141414" stroke-width="1.6"/>
<line x1="1062.1" y1="307.2" x2="1062.1" y2="316.8" stroke="#141414" stroke-width="1.6"/>
<line x1="227.8" y1="237.6" x2="290.4" y2="237.6" stroke="#222" stroke-width="1.3"/>
<line x1="227.8" y1="244.1" x2="290.4" y2="244.1" stroke="#222" stroke-width="1.3"/>
<line x1="227.8" y1="250.7" x2="290.4" y2="250.7" stroke="#222" stroke-width="1.3"/>
<line x1="227.8" y1="257.2" x2="290.4" y2="257.2" stroke="#222" stroke-width="1.3"/>
<line x1="227.8" y1="263.8" x2="290.4" y2="263.8" stroke="#222" stroke-width="1.3"/>
<line x1="227.8" y1="270.3" x2="290.4" y2="270.3" stroke="#222" stroke-width="1.3"/>
<line x1="227.8" y1="276.8" x2="290.4" y2="276.8" stroke="#222" stroke-width="1.3"/>
<line x1="227.8" y1="283.4" x2="290.4" y2="283.4" stroke="#222" stroke-width="1.3"/>
<line x1="227.8" y1="289.9" x2="290.4" y2="289.9" stroke="#222" stroke-width="1.3"/>
<line x1="227.8" y1="296.5" x2="290.4" y2="296.5" stroke="#222" stroke-width="1.3"/>
<rect x="257.2" y="237.6" width="4.8" height="58.9" fill="#fff" stroke="#141414" stroke-width="1.1"/>
<rect x="297.0" y="199.0" width="9.0" height="17.0" fill="none" stroke="#141414" stroke-width="1"/>
<rect x="297.0" y="218.5" width="8.4" height="58.0" fill="none" stroke="#141414" stroke-width="1.1"/>
<path d="M304,221 L298,247 L303,245 L298,274" stroke="#141414" stroke-width="1" fill="none"/>
<rect x="296.6" y="279.5" width="10.2" height="59.0" fill="#f2f2f2"/>
<line x1="306.6" y1="279.5" x2="306.6" y2="339.0" stroke="#333" stroke-width="1"/>
<line x1="296.6" y1="338.6" x2="306.8" y2="338.6" stroke="#333" stroke-width="1"/>
<line x1="362.0" y1="204.0" x2="424.0" y2="291.5" stroke="#141414" stroke-width="1"/>
<line x1="424.0" y1="204.0" x2="362.0" y2="291.5" stroke="#141414" stroke-width="1"/>
<rect x="440.0" y="247.0" width="15.0" height="15.0" fill="none" stroke="#141414" stroke-width="1.2"/>
<path d="M442.5,259.5 L447,251 L448,256 L452.5,249.5" stroke="#141414" stroke-width="1" fill="none"/>
<path d="M470,216 L482,216 Q488,216 488,222 Q488,228 482,228 L470,228 Z" fill="none" stroke="#141414" stroke-width="1"/>
<line x1="472.0" y1="216.0" x2="472.0" y2="228.0" stroke="#141414" stroke-width="1"/>
<path d="M470,245 L482,245 Q488,245 488,251 Q488,257 482,257 L470,257 Z" fill="none" stroke="#141414" stroke-width="1"/>
<line x1="472.0" y1="245.0" x2="472.0" y2="257.0" stroke="#141414" stroke-width="1"/>
<rect x="490.3" y="205.6" width="12.2" height="7.1" fill="none" stroke="#141414" stroke-width="1"/>
<circle cx="494.0" cy="209.2" r="1.0" stroke="#141414" stroke-width="1" fill="#141414"/>
<circle cx="499.0" cy="209.2" r="1.0" stroke="#141414" stroke-width="1" fill="#141414"/>
<rect x="490.3" y="260.0" width="12.2" height="7.0" fill="none" stroke="#141414" stroke-width="1"/>
<circle cx="494.0" cy="263.5" r="1.0" stroke="#141414" stroke-width="1" fill="#141414"/>
<circle cx="499.0" cy="263.5" r="1.0" stroke="#141414" stroke-width="1" fill="#141414"/>
<line x1="506.0" y1="213.3" x2="506.0" y2="231.0" stroke="#141414" stroke-width="1"/>
<line x1="506.0" y1="241.2" x2="506.0" y2="258.4" stroke="#141414" stroke-width="1"/>
<line x1="122.8" y1="272.0" x2="222.8" y2="272.0" stroke="#141414" stroke-width="1"/>
<line x1="122.8" y1="275.5" x2="222.8" y2="275.5" stroke="#141414" stroke-width="1"/>
<line x1="123.0" y1="276.0" x2="170.7" y2="333.2" stroke="#141414" stroke-width="1"/>
<line x1="170.7" y1="276.0" x2="123.0" y2="333.2" stroke="#141414" stroke-width="1"/>
<line x1="174.2" y1="276.0" x2="222.8" y2="333.2" stroke="#141414" stroke-width="1"/>
<line x1="222.8" y1="276.0" x2="174.2" y2="333.2" stroke="#141414" stroke-width="1"/>
<path d="M135,333 L135,283 L167.3,283 L167.3,333" fill="none" stroke="#141414" stroke-width="1"/>
<path d="M177.6,333 L177.6,283 L209.8,283 L209.8,333" fill="none" stroke="#141414" stroke-width="1"/>
<rect x="135.0" y="334.5" width="33.0" height="3.0" fill="#fff" stroke="#222" stroke-width="0.8"/>
<rect x="177.6" y="334.5" width="32.2" height="3.0" fill="#fff" stroke="#222" stroke-width="0.8"/>
<line x1="24.4" y1="270.1" x2="59.5" y2="270.1" stroke="#111" stroke-width="2"/>
<line x1="24.4" y1="273.1" x2="59.5" y2="273.1" stroke="#111" stroke-width="1.4"/>
<rect x="460.0" y="223.0" width="5.0" height="30.0" fill="#fff" stroke="#222" stroke-width="1"/>
<line x1="460.0" y1="223.0" x2="465.0" y2="253.0" stroke="#222" stroke-width="0.7"/>
<rect x="64.0" y="274.0" width="13.3" height="3.8" fill="#fff" stroke="#222" stroke-width="1"/>
<line x1="83.2" y1="276.0" x2="83.2" y2="296.0" stroke="#141414" stroke-width="1.5"/>
<line x1="98.0" y1="276.0" x2="98.0" y2="296.0" stroke="#141414" stroke-width="1.5"/>
<path d="M85.5,276.3 L93.5,276.3 L93.5,288 Q93.5,292.6 89.5,292.6 Q85.5,292.6 85.5,288 Z" fill="none" stroke="#141414" stroke-width="1"/>
<line x1="85.5" y1="281.0" x2="93.5" y2="281.0" stroke="#141414" stroke-width="0.8"/>
<circle cx="97.7" cy="316.4" r="18.5" stroke="#333" stroke-width="1" fill="none" stroke-dasharray="2.5,2"/>
<rect x="64.5" y="316.4" width="12.8" height="14.8" fill="none" stroke="#141414" stroke-width="1"/>
<path d="M67,320 L74,320 Q75,326 71,328 L67,328 Z" fill="none" stroke="#141414" stroke-width="1"/>
<circle cx="69.5" cy="323.5" r="1.0" stroke="#141414" stroke-width="1" fill="#141414"/>
<rect x="90.6" y="334.8" width="21.4" height="2.7" fill="#ddd" stroke="#555" stroke-width="0.6"/>
<line x1="23.8" y1="338.0" x2="23.8" y2="352.5" stroke="#333" stroke-width="2"/>
<line x1="23.8" y1="379.2" x2="23.8" y2="393.0" stroke="#333" stroke-width="2"/>
<line x1="220.8" y1="390.5" x2="279.7" y2="390.5" stroke="#333" stroke-width="1.2"/>
<line x1="722.9" y1="338.4" x2="750.0" y2="338.4" stroke="#333" stroke-width="0.9"/>
<line x1="722.9" y1="343.2" x2="750.0" y2="343.2" stroke="#333" stroke-width="2"/>
<line x1="773.8" y1="338.4" x2="810.6" y2="338.4" stroke="#333" stroke-width="0.9"/>
<line x1="773.8" y1="343.2" x2="810.6" y2="343.2" stroke="#333" stroke-width="2"/>
<line x1="854.0" y1="338.4" x2="891.0" y2="338.4" stroke="#333" stroke-width="0.9"/>
<line x1="854.0" y1="343.2" x2="891.0" y2="343.2" stroke="#333" stroke-width="2"/>
<line x1="918.8" y1="338.4" x2="956.9" y2="338.4" stroke="#333" stroke-width="0.9"/>
<line x1="918.8" y1="343.2" x2="956.9" y2="343.2" stroke="#333" stroke-width="2"/>
<line x1="969.0" y1="338.4" x2="1008.8" y2="338.4" stroke="#333" stroke-width="0.9"/>
<line x1="969.0" y1="343.2" x2="1008.8" y2="343.2" stroke="#333" stroke-width="2"/>
<line x1="1024.4" y1="338.4" x2="1078.0" y2="338.4" stroke="#333" stroke-width="0.9"/>
<line x1="1024.4" y1="343.2" x2="1078.0" y2="343.2" stroke="#333" stroke-width="2"/>
<line x1="646.0" y1="347.5" x2="646.0" y2="400.0" stroke="#333" stroke-width="1"/>
<line x1="646.0" y1="400.0" x2="702.4" y2="400.0" stroke="#333" stroke-width="1"/>
<line x1="702.4" y1="347.5" x2="702.4" y2="399.0" stroke="#333" stroke-width="1"/>
<path d="M702.6,361 A38,38 0 1 1 664.6,399" fill="none" stroke="#333" stroke-width="3"/>
<path d="M702.6,361 A38,38 0 1 1 664.6,399" fill="none" stroke="#bbb" stroke-width="0.7"/>
<line x1="702.6" y1="396.5" x2="702.6" y2="362.5" stroke="#2a2a2a" stroke-width="1.25"/>
<line x1="703.2" y1="396.6" x2="711.6" y2="363.6" stroke="#2a2a2a" stroke-width="1.25"/>
<line x1="703.8" y1="396.8" x2="720.0" y2="366.9" stroke="#2a2a2a" stroke-width="1.25"/>
<line x1="704.3" y1="397.2" x2="727.3" y2="372.1" stroke="#2a2a2a" stroke-width="1.25"/>
<line x1="704.7" y1="397.6" x2="733.2" y2="379.0" stroke="#2a2a2a" stroke-width="1.25"/>
<line x1="705.0" y1="398.2" x2="737.1" y2="387.1" stroke="#2a2a2a" stroke-width="1.25"/>
<line x1="705.1" y1="398.8" x2="739.0" y2="396.0" stroke="#2a2a2a" stroke-width="1.25"/>
<line x1="705.1" y1="399.4" x2="738.6" y2="405.0" stroke="#2a2a2a" stroke-width="1.25"/>
<line x1="704.9" y1="400.0" x2="736.0" y2="413.7" stroke="#2a2a2a" stroke-width="1.25"/>
<line x1="704.6" y1="400.5" x2="731.4" y2="421.4" stroke="#2a2a2a" stroke-width="1.25"/>
<line x1="704.1" y1="401.0" x2="725.0" y2="427.8" stroke="#2a2a2a" stroke-width="1.25"/>
<line x1="703.6" y1="401.3" x2="717.3" y2="432.4" stroke="#2a2a2a" stroke-width="1.25"/>
<line x1="703.0" y1="401.5" x2="708.6" y2="435.0" stroke="#2a2a2a" stroke-width="1.25"/>
<line x1="702.4" y1="401.5" x2="699.6" y2="435.4" stroke="#2a2a2a" stroke-width="1.25"/>
<line x1="701.8" y1="401.4" x2="690.7" y2="433.5" stroke="#2a2a2a" stroke-width="1.25"/>
<line x1="701.2" y1="401.1" x2="682.6" y2="429.6" stroke="#2a2a2a" stroke-width="1.25"/>
<line x1="700.8" y1="400.7" x2="675.7" y2="423.7" stroke="#2a2a2a" stroke-width="1.25"/>
<line x1="700.4" y1="400.2" x2="670.5" y2="416.4" stroke="#2a2a2a" stroke-width="1.25"/>
<line x1="700.2" y1="399.6" x2="667.2" y2="408.0" stroke="#2a2a2a" stroke-width="1.25"/>
<line x1="700.1" y1="399.0" x2="666.1" y2="399.0" stroke="#2a2a2a" stroke-width="1.25"/>
<path d="M683.6,399.0 A19,19 0 0 0 721.0,403.9" fill="none" stroke="#222" stroke-width="1"/>
<path d="M680.6,405 L684.6,397 L687.6,403" stroke="#222" stroke-width="1" fill="none"/>
<circle cx="702.6" cy="399.0" r="2.2" stroke="#222" stroke-width="1.3" fill="#fff"/>
<line x1="702.4" y1="347.5" x2="702.4" y2="361.0" stroke="#333" stroke-width="1"/>
<line x1="47.6" y1="509.2" x2="1064.0" y2="509.2" stroke="#555" stroke-width="1.6"/>
<rect x="160.1" y="541.4" width="36.5" height="36.8" fill="#b2ecfa" stroke="#3a3a3a" stroke-width="1.2"/>
<rect x="358.1" y="541.4" width="36.3" height="36.8" fill="#c2e0cf" stroke="#3a3a3a" stroke-width="1.2"/>
<rect x="556.1" y="541.4" width="35.9" height="36.8" fill="#f8d3d7" stroke="#3a3a3a" stroke-width="1.2"/>
<rect x="754.1" y="541.4" width="35.9" height="36.8" fill="#e6e6e6" stroke="#3a3a3a" stroke-width="1.2"/>
<text x="207.5" y="554.7" letter-spacing="-0.22" font-family="Liberation Sans, sans-serif" font-size="13.05" fill="#151515" stroke="#151515" stroke-width="0.2">TYÖPISTEALUEET</text>
<text x="207.5" y="569.6" font-family="Liberation Sans, sans-serif" font-size="13.05" fill="#151515" stroke="#151515" stroke-width="0.2"><tspan font-weight="bold">22</tspan> TP</text>
<text x="404.5" y="552.8" font-family="Liberation Sans, sans-serif" font-size="13.05" fill="#151515" stroke="#151515" stroke-width="0.2">NEUV.HUONEET</text>
<text x="404.5" y="568.2" font-family="Liberation Sans, sans-serif" font-size="13.05" fill="#151515" stroke="#151515" stroke-width="0.2">3 kpl, 4 - 8 hlö</text>
<text x="603" y="553.2" font-family="Liberation Sans, sans-serif" font-size="13.05" fill="#151515" stroke="#151515" stroke-width="0.2">TAUKOTILA,</text>
<text x="602.5" y="569.6" font-family="Liberation Sans, sans-serif" font-size="13.05" fill="#151515" stroke="#151515" stroke-width="0.2">KEITTIÖ</text>
<text x="801.2" y="554.7" font-family="Liberation Sans, sans-serif" font-size="13.05" fill="#151515" stroke="#151515" stroke-width="0.2">AULA, KÄYTÄVÄT,</text>
<text x="801.2" y="570.6" font-family="Liberation Sans, sans-serif" font-size="13.05" fill="#151515" stroke="#151515" stroke-width="0.2">VARASTOT, WC 2 kpl</text>
</svg>
</body></html>
